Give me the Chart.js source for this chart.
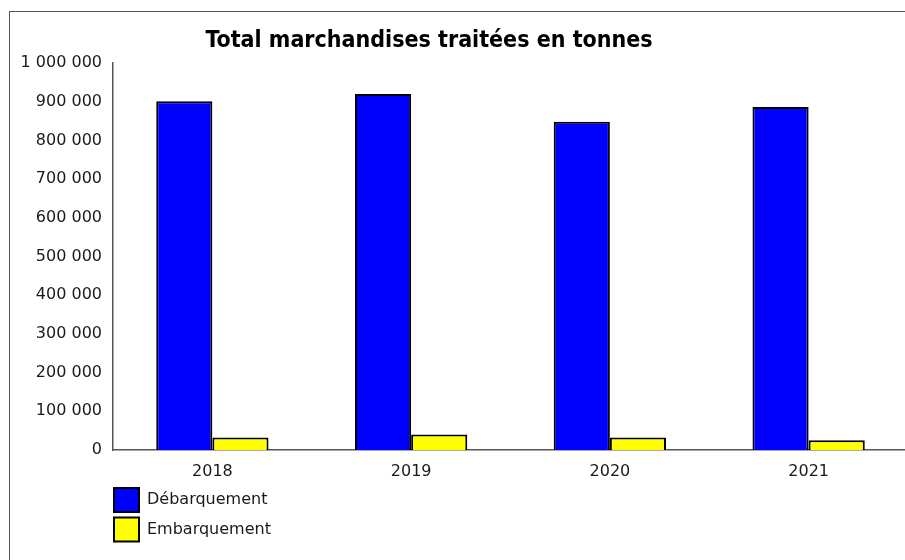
<!DOCTYPE html>
<html>
<head>
<meta charset="utf-8">
<script src="https://cdn.jsdelivr.net/npm/chart.js@4"></script>
<style>
    body { margin: 0; overflow: hidden; background: #fff; }
    #frame { position: absolute; left: 9px; top: 11px; width: 1000px; height: 700px; border: 1px solid #555; }
    #chart { position: absolute; left: 0; top: 0; }
</style>
</head>
<body>
<div id="frame"></div>
<canvas id="chart" width="910" height="560"></canvas>
<script>
const years = ['2018', '2019', '2020', '2021'];
const debarquement = [901000, 920000, 848000, 886000];
const embarquement = [32000, 40000, 32000, 25000];
const yMax = 1000000;
const yStep = 100000;
const chartTitle = 'Total marchandises traitées en tonnes';

const fmt = v => String(v).replace(/\B(?=(\d{3})+(?!\d))/g, ' ');

// title + vertical legend drawn by hand (Chart.js legend can't stack at bottom-left)
const extras = {
    id: 'extras',
    afterDraw(chart) {
        const ctx = chart.ctx;
        ctx.save();
        ctx.fillStyle = '#000';
        ctx.font = 'bold 23px "DejaVu Sans Condensed", "DejaVu Sans"';
        ctx.textAlign = 'center';
        ctx.textBaseline = 'middle';
        ctx.fillText(chartTitle, 429, 41);

        ctx.font = '16px "DejaVu Sans"';
        ctx.textAlign = 'left';
        chart.data.datasets.forEach((ds, i) => {
            const y = 488 + i * 29.5;
            ctx.fillStyle = ds.backgroundColor;
            ctx.fillRect(114, y, 25, 24);
            ctx.strokeStyle = '#000';
            ctx.lineWidth = 2;
            ctx.strokeRect(114, y, 25, 24);
            ctx.fillStyle = '#1a1a1a';
            ctx.fillText(ds.label, 147, y + 12);
        });
        ctx.restore();
    }
};

new Chart(document.getElementById('chart').getContext('2d'), {
    type: 'bar',
    data: {
        labels: years,
        datasets: [{
            label: 'Débarquement',
            data: debarquement,
            backgroundColor: '#0000ff',
            borderColor: '#000',
            borderWidth: 2
        }, {
            label: 'Embarquement',
            data: embarquement,
            backgroundColor: '#ffff00',
            borderColor: '#000',
            borderWidth: 2
        }]
    },
    options: {
        responsive: false,
        animation: false,
        layout: { padding: { left: 0, right: 2, top: 63, bottom: 70 } },
        datasets: { bar: { categoryPercentage: 0.565, barPercentage: 1 } },
        plugins: {
            legend: { display: false },
            tooltip: { enabled: false }
        },
        scales: {
            x: {
                grid: { display: false, drawTicks: false },
                border: { display: true, color: '#555', width: 1.5 },
                ticks: { color: '#1a1a1a', padding: 12, font: { family: 'DejaVu Sans', size: 16 } },
                afterFit: s => { s.height = 40; }
            },
            y: {
                min: 0,
                max: yMax,
                grid: { display: false, drawTicks: false },
                border: { display: true, color: '#555', width: 1.5 },
                ticks: {
                    stepSize: yStep,
                    color: '#1a1a1a',
                    padding: 11,
                    font: { family: 'DejaVu Sans', size: 16 },
                    callback: v => fmt(v)
                },
                afterFit: s => { s.width = 113; }
            }
        }
    },
    plugins: [extras]
});
</script>
</body>
</html>
